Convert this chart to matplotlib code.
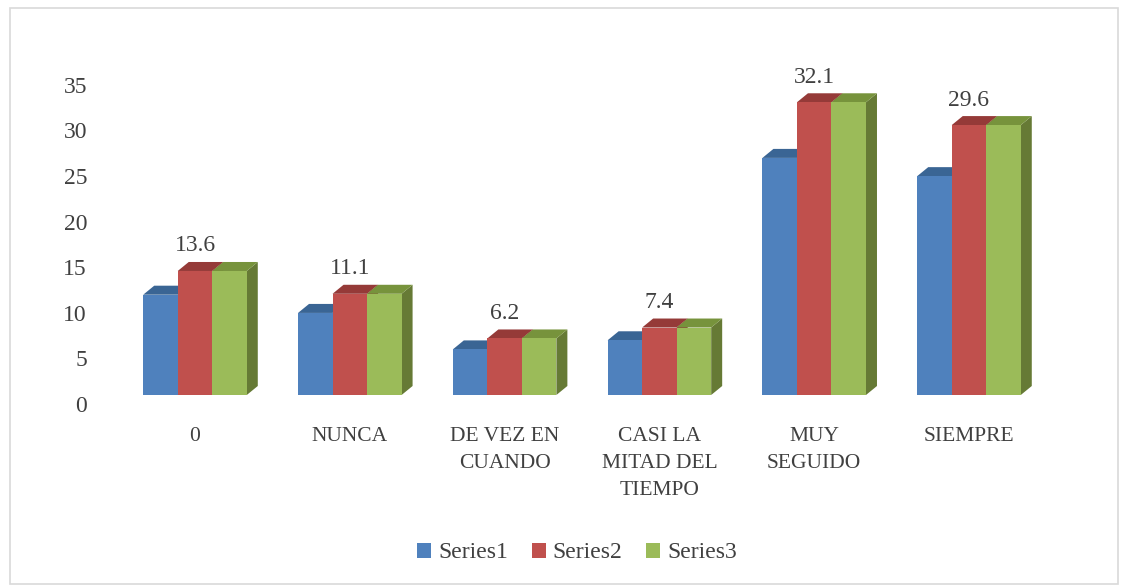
import matplotlib
matplotlib.use('Agg')
import matplotlib.pyplot as plt
from matplotlib.patches import Polygon, Rectangle, Patch
from matplotlib.transforms import ScaledTranslation

plt.rcParams['font.family'] = ['Liberation Serif', 'DejaVu Serif']

# datos (Series1 = frecuencia, Series2/3 = porcentaje)
categorias = ['0', 'NUNCA', 'DE VEZ EN\nCUANDO', 'CASI LA\nMITAD DEL\nTIEMPO', 'MUY\nSEGUIDO', 'SIEMPRE']
series1 = [11, 9, 5, 6, 26, 24]
series2 = [13.6, 11.1, 6.2, 7.4, 32.1, 29.6]
series3 = [13.6, 11.1, 6.2, 7.4, 32.1, 29.6]
nombres = ['Series1', 'Series2', 'Series3']
yticks = [0, 5, 10, 15, 20, 25, 30, 35]

frente = ['#4F81BD', '#C0504D', '#9BBB59']
topo = ['#3A6594', '#953A38', '#77933C']
lado = ['#385D8A', '#8C3836', '#667A35']
gris = '#404040'

W, H = 1121, 585
fig = plt.figure(figsize=(W / 100, H / 100), dpi=100)
ax_l, ax_b, ax_w, ax_h = 117.6, 190, 928.8, 337.4
ax = fig.add_axes([ax_l / W, ax_b / H, ax_w / W, ax_h / H])
ax.set_xlim(-0.5, 5.5)
ax.set_ylim(0, 37)
for s in ax.spines.values():
    s.set_visible(False)

# profundidad 3D en pixeles -> datos
dx = 11 * 6 / ax_w
dy = 9 * 37 / ax_h
w = 0.223

series = [series1, series2, series3]
for i in range(len(categorias)):
    for s in range(3):
        x0 = i + (s - 1.5) * w
        h = series[s][i]
        ax.add_patch(Polygon([(x0 + w, 0), (x0 + w + dx, dy), (x0 + w + dx, h + dy), (x0 + w, h)],
                             closed=True, facecolor=lado[s], edgecolor='none', zorder=3 * s + 1))
        ax.add_patch(Polygon([(x0, h), (x0 + w, h), (x0 + w + dx, h + dy), (x0 + dx, h + dy)],
                             closed=True, facecolor=topo[s], edgecolor='none', zorder=3 * s + 2))
        ax.bar(x0, h, w, align='edge', color=frente[s], zorder=3 * s + 3)
    ax.annotate(f'{series2[i]:.1f}', (i, series2[i]), xytext=(0, 18), textcoords='offset points',
                ha='center', va='center', fontsize=17, color=gris, zorder=20)

ax.set_xticks(range(len(categorias)))
ax.set_xticklabels(categorias, fontsize=15.5, color=gris, linespacing=1.58)
ax.tick_params(axis='x', length=0, pad=23)
ax.set_yticks(yticks)
ax.set_yticklabels([str(t) for t in yticks], fontsize=17, color=gris)
ax.tick_params(axis='y', length=0, pad=22)
desplaz = ScaledTranslation(0, -9 / 100, fig.dpi_scale_trans)
for lbl in ax.get_yticklabels():
    lbl.set_transform(lbl.get_transform() + desplaz)

handles = [Patch(facecolor=c, edgecolor='none') for c in frente]
fig.legend(handles, nombres, loc='center', bbox_to_anchor=(577 / W, 1 - 553 / H), ncol=3,
           frameon=False, fontsize=17, handlelength=0.6, handleheight=0.6,
           handletextpad=0.3, columnspacing=1.0, labelcolor=gris)

fig.add_artist(Rectangle((10 / W, 1 / H), 1108 / W, 576 / H, transform=fig.transFigure,
                         fill=False, edgecolor='#D9D9D9', lw=1.2))

fig.savefig('out.png', dpi=100)
